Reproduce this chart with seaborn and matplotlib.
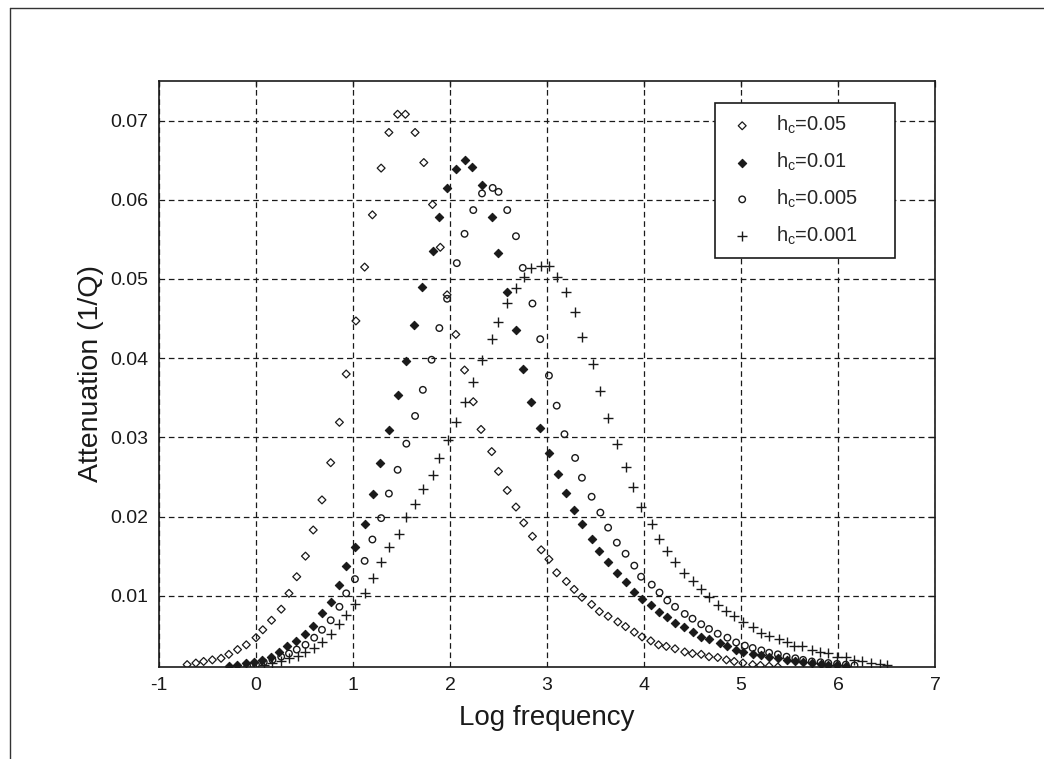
import matplotlib
matplotlib.use("Agg")
import matplotlib.pyplot as plt
import seaborn as sns
import pandas as pd
from matplotlib.lines import Line2D

sns.set_theme(style="white")
plt.rcParams["font.family"] = ["Liberation Sans", "DejaVu Sans"]
plt.rcParams["mathtext.fontset"] = "custom"
plt.rcParams["mathtext.rm"] = "Liberation Sans"

# h_c = 0.05
x_005 = [-0.71, -0.62, -0.54, -0.45, -0.36, -0.28, -0.19, -0.10, 0.00, 0.07,
         0.16, 0.26, 0.34, 0.42, 0.51, 0.59, 0.68, 0.77, 0.86, 0.93,
         1.03, 1.12, 1.20, 1.29, 1.37, 1.46, 1.54, 1.64, 1.73, 1.82,
         1.90, 1.97, 2.06, 2.15, 2.24, 2.32, 2.43, 2.50, 2.59, 2.68,
         2.76, 2.85, 2.94, 3.02, 3.10, 3.20, 3.28, 3.36, 3.46, 3.54,
         3.63, 3.73, 3.81, 3.90, 3.98, 4.07, 4.15, 4.23, 4.32, 4.42,
         4.50, 4.59, 4.67, 4.76, 4.85, 4.93, 5.02, 5.12, 5.20, 5.29, 5.38]
y_005 = [0.0013, 0.0015, 0.0017, 0.0019, 0.0021, 0.0026, 0.0032, 0.0038, 0.0047, 0.0057,
         0.0069, 0.0083, 0.0103, 0.0124, 0.0150, 0.0183, 0.0221, 0.0268, 0.0319, 0.0380,
         0.0447, 0.0515, 0.0581, 0.0640, 0.0685, 0.0708, 0.0708, 0.0685, 0.0647, 0.0594,
         0.0540, 0.0480, 0.0430, 0.0385, 0.0345, 0.0310, 0.0282, 0.0257, 0.0233, 0.0212,
         0.0192, 0.0175, 0.0158, 0.0146, 0.0129, 0.0118, 0.0108, 0.0098, 0.0089, 0.0080,
         0.0074, 0.0067, 0.0061, 0.0054, 0.0048, 0.0043, 0.0038, 0.0036, 0.0033, 0.0029,
         0.0027, 0.0026, 0.0023, 0.0022, 0.0019, 0.0017, 0.0015, 0.0013, 0.0012, 0.0011, 0.0010]

# h_c = 0.01
x_001 = [-0.28, -0.20, -0.10, -0.02, 0.06, 0.15, 0.24, 0.32, 0.41, 0.51,
         0.59, 0.68, 0.77, 0.86, 0.93, 1.02, 1.12, 1.21, 1.28, 1.37,
         1.46, 1.55, 1.63, 1.71, 1.82, 1.89, 1.97, 2.06, 2.15, 2.23,
         2.33, 2.43, 2.49, 2.59, 2.68, 2.75, 2.84, 2.93, 3.02, 3.11,
         3.20, 3.28, 3.36, 3.46, 3.54, 3.63, 3.72, 3.81, 3.90, 3.98,
         4.07, 4.15, 4.24, 4.32, 4.41, 4.50, 4.59, 4.67, 4.78, 4.86,
         4.95, 5.02, 5.12, 5.21, 5.29, 5.38, 5.47, 5.56, 5.64, 5.73,
         5.82, 5.90, 5.99, 6.08]
y_001 = [0.0011, 0.0013, 0.0015, 0.0016, 0.0019, 0.0023, 0.0029, 0.0037, 0.0043, 0.0052,
         0.0062, 0.0078, 0.0092, 0.0113, 0.0137, 0.0162, 0.0191, 0.0229, 0.0268, 0.0309,
         0.0353, 0.0397, 0.0442, 0.0490, 0.0535, 0.0578, 0.0615, 0.0639, 0.0650, 0.0642,
         0.0619, 0.0578, 0.0533, 0.0484, 0.0435, 0.0386, 0.0345, 0.0312, 0.0280, 0.0254,
         0.0230, 0.0208, 0.0191, 0.0172, 0.0156, 0.0142, 0.0129, 0.0117, 0.0105, 0.0096,
         0.0088, 0.0080, 0.0073, 0.0066, 0.0061, 0.0054, 0.0048, 0.0045, 0.0040, 0.0036,
         0.0032, 0.0029, 0.0027, 0.0025, 0.0023, 0.0021, 0.0019, 0.0018, 0.0016, 0.0015,
         0.0014, 0.0013, 0.0012, 0.0011]

# h_c = 0.005
x_0005 = [-0.09, 0.00, 0.08, 0.17, 0.26, 0.34, 0.42, 0.51, 0.60, 0.68,
          0.77, 0.86, 0.93, 1.02, 1.12, 1.20, 1.29, 1.37, 1.46, 1.55,
          1.64, 1.72, 1.81, 1.89, 1.97, 2.07, 2.15, 2.24, 2.33, 2.44,
          2.50, 2.59, 2.68, 2.75, 2.85, 2.93, 3.02, 3.10, 3.18, 3.29,
          3.36, 3.46, 3.55, 3.63, 3.72, 3.81, 3.90, 3.97, 4.08, 4.16,
          4.24, 4.32, 4.42, 4.50, 4.59, 4.67, 4.76, 4.86, 4.95, 5.04,
          5.12, 5.21, 5.29, 5.38, 5.47, 5.56, 5.64, 5.73, 5.82, 5.90,
          5.99, 6.08, 6.17]
y_0005 = [0.0011, 0.0013, 0.0016, 0.0019, 0.0023, 0.0027, 0.0032, 0.0038, 0.0047, 0.0057,
          0.0069, 0.0086, 0.0103, 0.0121, 0.0144, 0.0171, 0.0198, 0.0229, 0.0259, 0.0292,
          0.0327, 0.0360, 0.0398, 0.0438, 0.0475, 0.0520, 0.0557, 0.0587, 0.0608, 0.0615,
          0.0610, 0.0587, 0.0554, 0.0514, 0.0469, 0.0424, 0.0378, 0.0340, 0.0304, 0.0274,
          0.0249, 0.0225, 0.0205, 0.0186, 0.0167, 0.0153, 0.0138, 0.0124, 0.0114, 0.0104,
          0.0094, 0.0086, 0.0077, 0.0071, 0.0064, 0.0058, 0.0052, 0.0047, 0.0041, 0.0037,
          0.0034, 0.0031, 0.0028, 0.0026, 0.0023, 0.0021, 0.0019, 0.0017, 0.0016, 0.0015,
          0.0014, 0.0013, 0.0012]

# h_c = 0.001
x_0001 = [0.08, 0.17, 0.26, 0.34, 0.43, 0.51, 0.60, 0.68, 0.77, 0.86,
          0.93, 1.02, 1.12, 1.21, 1.29, 1.37, 1.47, 1.55, 1.64, 1.72,
          1.82, 1.89, 1.98, 2.06, 2.15, 2.24, 2.33, 2.43, 2.49, 2.59,
          2.68, 2.76, 2.84, 2.94, 3.02, 3.10, 3.20, 3.29, 3.36, 3.47,
          3.55, 3.63, 3.72, 3.81, 3.89, 3.97, 4.08, 4.15, 4.24, 4.32,
          4.41, 4.50, 4.59, 4.67, 4.76, 4.85, 4.93, 5.02, 5.12, 5.21,
          5.29, 5.39, 5.47, 5.55, 5.63, 5.73, 5.81, 5.90, 5.99, 6.08,
          6.17, 6.25, 6.34, 6.43, 6.50]
y_0001 = [0.0012, 0.0015, 0.0017, 0.0021, 0.0024, 0.0029, 0.0034, 0.0041, 0.0052, 0.0064,
          0.0076, 0.0089, 0.0104, 0.0123, 0.0142, 0.0162, 0.0178, 0.0200, 0.0216, 0.0235,
          0.0253, 0.0274, 0.0297, 0.0320, 0.0345, 0.0370, 0.0398, 0.0424, 0.0446, 0.0470,
          0.0489, 0.0503, 0.0514, 0.0517, 0.0516, 0.0502, 0.0484, 0.0458, 0.0427, 0.0393,
          0.0358, 0.0324, 0.0292, 0.0262, 0.0237, 0.0212, 0.0191, 0.0172, 0.0156, 0.0142,
          0.0129, 0.0118, 0.0108, 0.0098, 0.0088, 0.0081, 0.0074, 0.0067, 0.0061, 0.0053,
          0.0049, 0.0045, 0.0042, 0.0037, 0.0036, 0.0032, 0.0029, 0.0028, 0.0023, 0.0022,
          0.0019, 0.0017, 0.0015, 0.0014, 0.0013]

x_ticks = [-1, 0, 1, 2, 3, 4, 5, 6, 7]
y_ticks = [0.01, 0.02, 0.03, 0.04, 0.05, 0.06, 0.07]

series = [
    (x_005, y_005, r"h$_\mathregular{c}$=0.05", dict(marker="D", s=16, facecolors="none", edgecolor="k", linewidth=0.9)),
    (x_001, y_001, r"h$_\mathregular{c}$=0.01", dict(marker="D", s=18, facecolors="k", edgecolor="k", linewidth=0.8)),
    (x_0005, y_0005, r"h$_\mathregular{c}$=0.005", dict(marker="o", s=22, facecolors="none", edgecolor="k", linewidth=1.0)),
    (x_0001, y_0001, r"h$_\mathregular{c}$=0.001", dict(marker="+", s=42, color="k", linewidth=1.0)),
]

fig = plt.figure(figsize=(10.44, 7.59), dpi=100)
fig.patch.set_facecolor("white")
ax = fig.add_axes([159 / 1044, (759 - 667) / 759, 776 / 1044, 586 / 759])
ax.set_facecolor("white")

for xs, ys, label, kw in series:
    df = pd.DataFrame({"x": xs, "y": ys})
    sns.scatterplot(data=df, x="x", y="y", ax=ax, label=label, **kw)

ax.set_xlim(-1, 7)
ax.set_ylim(0.001, 0.075)
ax.set_xticks(x_ticks)
ax.set_xticklabels([str(t) for t in x_ticks])
ax.set_yticks(y_ticks)
ax.set_yticklabels([f"{t:.2f}" for t in y_ticks])

ax.grid(True, color="k", linestyle=(0, (4.5, 3)), linewidth=0.9)
ax.set_axisbelow(True)
for sp in ax.spines.values():
    sp.set_color("k")
    sp.set_linewidth(1.2)
ax.tick_params(direction="in", length=4.5, width=0.9, colors="k",
               top=True, right=True, labelsize=14)
ax.tick_params(axis="x", pad=7)
ax.tick_params(axis="y", pad=8)

ax.set_xlabel("Log frequency", fontsize=20, color="k", labelpad=8)
ax.set_ylabel("Attenuation (1/Q)", fontsize=20.5, color="k", labelpad=4)

leg = ax.legend(loc="upper left", bbox_to_anchor=(0.7165, 0.5, 0.232, 0.4625),
                mode="expand", borderaxespad=0, fontsize=14.5, frameon=True,
                fancybox=False, framealpha=1, edgecolor="k", borderpad=0.55,
                handlelength=1.6, handletextpad=0.9, labelspacing=0.72)
leg.get_frame().set_linewidth(1.2)

# screenshot frame
fig.add_artist(Line2D([10 / 1044, 10 / 1044], [0, 1 - 7.5 / 759], color="#333333", linewidth=1))
fig.add_artist(Line2D([10 / 1044, 1], [1 - 7.5 / 759, 1 - 7.5 / 759], color="#333333", linewidth=1))

fig.savefig("out.png", dpi=100)
